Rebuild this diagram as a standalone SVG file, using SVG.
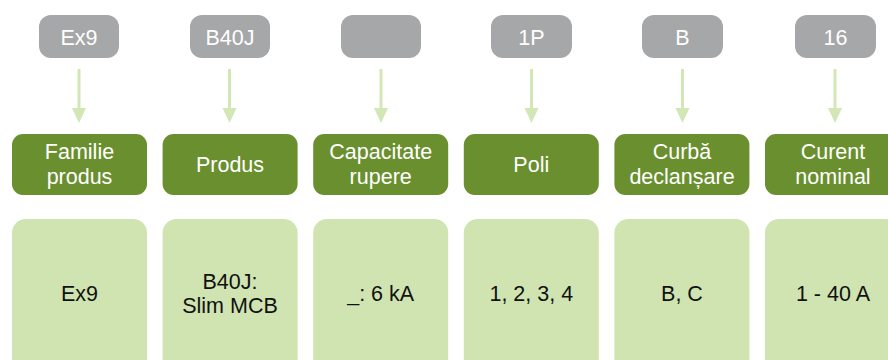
<svg xmlns="http://www.w3.org/2000/svg" width="888" height="360" viewBox="0 0 888 360">
<style>
text{font-family:"Liberation Sans",Arial,sans-serif;font-size:21.5px;text-anchor:middle}
.code rect{fill:#a6a7a9}
.code text{fill:#ffffff}
.lab rect{fill:#698f2f}
.lab text{fill:#ffffff}
.val rect{fill:#cfe4b0}
.val text{fill:#111111}
.conn line{stroke:#d2e6b6;stroke-width:3}
.conn polygon{fill:#d2e6b6}
</style>
<rect width="888" height="360" fill="#ffffff"/>
<g class="conn">
<line x1="79" y1="69" x2="79" y2="108"/><polygon points="72,108 86,108 79,123"/>
<line x1="229.5" y1="69" x2="229.5" y2="108"/><polygon points="222.5,108 236.5,108 229.5,123"/>
<line x1="381" y1="69" x2="381" y2="108"/><polygon points="374,108 388,108 381,123"/>
<line x1="531.5" y1="69" x2="531.5" y2="108"/><polygon points="524.5,108 538.5,108 531.5,123"/>
<line x1="682.5" y1="69" x2="682.5" y2="108"/><polygon points="675.5,108 689.5,108 682.5,123"/>
<line x1="835" y1="69" x2="835" y2="108"/><polygon points="828,108 842,108 835,123"/>
</g>
<g id="code1" class="code"><rect x="39" y="15" width="80" height="43" rx="12"/><text x="79" y="45">Ex9</text></g>
<g id="code2" class="code"><rect x="190" y="15" width="80" height="43" rx="12"/><text x="230" y="45">B40J</text></g>
<g id="code3" class="code"><rect x="341" y="15" width="80" height="43" rx="12"/></g>
<g id="code4" class="code"><rect x="491" y="15" width="81" height="43" rx="12"/><text x="531.5" y="45">1P</text></g>
<g id="code5" class="code"><rect x="642" y="15" width="81" height="43" rx="12"/><text x="682.5" y="45">B</text></g>
<g id="code6" class="code"><rect x="795" y="15" width="81" height="43" rx="12"/><text x="835.5" y="45">16</text></g>

<g id="lab1" class="lab"><rect x="12" y="134" width="135" height="61" rx="11"/><text x="79.5" y="159">Familie</text><text x="79.5" y="184">produs</text></g>
<g id="lab2" class="lab"><rect x="162.6" y="134" width="135" height="61" rx="11"/><text x="230" y="172">Produs</text></g>
<g id="lab3" class="lab"><rect x="313.2" y="134" width="135" height="61" rx="11"/><text x="380.7" y="159">Capacitate</text><text x="380.7" y="184">rupere</text></g>
<g id="lab4" class="lab"><rect x="463.8" y="134" width="135" height="61" rx="11"/><text x="531.3" y="172">Poli</text></g>
<g id="lab5" class="lab"><rect x="614.4" y="134" width="135" height="61" rx="11"/><text x="682" y="159">Curbă</text><text x="682" y="184">declanșare</text></g>
<g id="lab6" class="lab"><rect x="765" y="134" width="135" height="61" rx="11"/><text x="833" y="159">Curent</text><text x="833" y="184">nominal</text></g>

<g id="val1" class="val"><rect x="12" y="219" width="135" height="170" rx="14"/><text x="79.5" y="301">Ex9</text></g>
<g id="val2" class="val"><rect x="162.6" y="219" width="135" height="170" rx="14"/><text x="230" y="289">B40J:</text><text x="230" y="313">Slim MCB</text></g>
<g id="val3" class="val"><rect x="313.2" y="219" width="135" height="170" rx="14"/><text x="380.7" y="301">_: 6 kA</text></g>
<g id="val4" class="val"><rect x="463.8" y="219" width="135" height="170" rx="14"/><text x="531.3" y="301">1, 2, 3, 4</text></g>
<g id="val5" class="val"><rect x="614.4" y="219" width="135" height="170" rx="14"/><text x="682" y="301">B, C</text></g>
<g id="val6" class="val"><rect x="765" y="219" width="135" height="170" rx="14"/><text x="833" y="301">1 - 40 A</text></g>
</svg>
